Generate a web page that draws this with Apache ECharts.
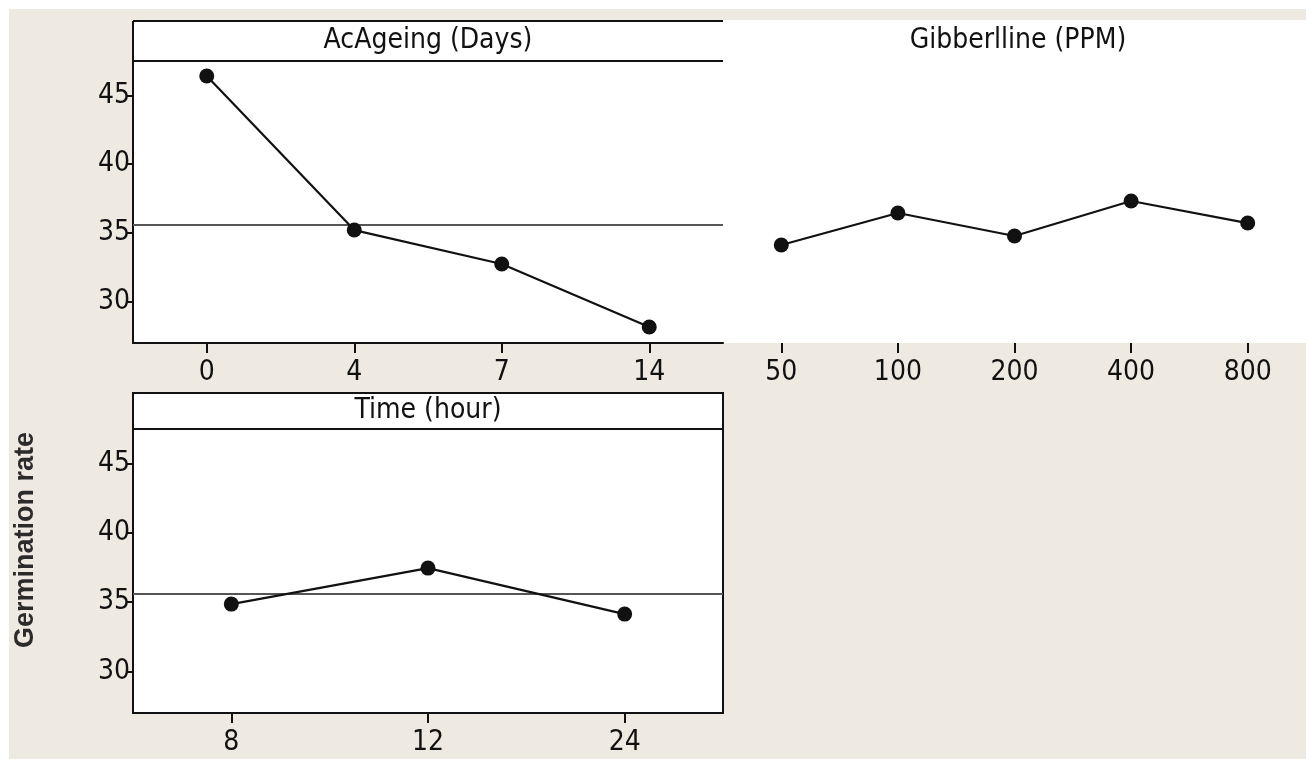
<!DOCTYPE html>
<html>
<head>
<meta charset="utf-8">
<script src="https://cdn.jsdelivr.net/npm/echarts@6/dist/echarts.min.js"></script>
<style>
  html, body { margin: 0; padding: 0; background: #fff; }
  #bg { position: absolute; left: 9px; top: 9px; width: 1297px; height: 750px; background: #eeeae1; }
  #main { position: absolute; left: 0; top: 0; width: 1306px; height: 759px; }
</style>
</head>
<body>
<div id="bg"></div>
<div id="main"></div>
<script>
// main effects for germination rate
const ageDays = ['0', '4', '7', '14']
const ageRate = [46.41, 35.21, 32.74, 28.16]
const gaPpm = ['50', '100', '200', '400', '800']
const gaRate = [34.12, 36.45, 34.78, 37.32, 35.72]
const timeHour = ['8', '12', '24']
const timeRate = [34.86, 37.46, 34.14]
const grandMean = 35.62
const yTicks = [30, 35, 40, 45]

const font = "'DejaVu Sans Condensed', 'DejaVu Sans', sans-serif"
const black = '#111'

const chart = echarts.init(document.getElementById('main'))

function xAxis(idx, data, showLine) {
  return {
    type: 'category',
    gridIndex: idx,
    data: data,
    boundaryGap: true,
    axisLine: { show: showLine, lineStyle: { color: black, width: 2 } },
    axisTick: { show: true, alignWithLabel: true, length: 10, lineStyle: { color: black, width: 2 } },
    axisLabel: { fontSize: 28, fontFamily: font, color: black, margin: 16 },
    splitLine: { show: false }
  }
}

function yAxis(idx, show) {
  return {
    type: 'value',
    gridIndex: idx,
    show: show,
    min: 27,
    max: 47.5,
    axisLine: { show: true, lineStyle: { color: black, width: 2 } },
    axisTick: { show: true, length: 6, customValues: yTicks, lineStyle: { color: black, width: 2 } },
    axisLabel: { fontSize: 28, fontFamily: font, color: black, margin: 3, customValues: yTicks },
    splitLine: { show: false }
  }
}

function lineSeries(idx, data, withMean) {
  const s = {
    type: 'line',
    xAxisIndex: idx,
    yAxisIndex: idx,
    data: data,
    symbol: 'circle',
    symbolSize: 15,
    lineStyle: { color: black, width: 2.2 },
    itemStyle: { color: black },
    z: 5
  }
  if (withMean) {
    s.markLine = {
      silent: true,
      symbol: 'none',
      label: { show: false },
      lineStyle: { color: '#555', type: 'solid', width: 2 },
      data: [{ yAxis: grandMean }]
    }
  }
  return s
}

function headText(text, x, y) {
  return {
    type: 'text',
    x: x,
    y: y,
    z: 10,
    style: { text: text, fontSize: 28, fontFamily: font, fill: black, align: 'center', verticalAlign: 'middle' }
  }
}

function hLine(x1, x2, y) {
  return { type: 'line', z: 10, shape: { x1: x1, y1: y, x2: x2, y2: y }, style: { stroke: black, lineWidth: 2 } }
}

const option = {
  animation: false,
  grid: [
    { left: 133, top: 61, width: 590, height: 282, show: true, backgroundColor: '#fff', borderWidth: 0 },
    { left: 723, top: 61, width: 590, height: 282, show: false },
    { left: 133, top: 429, width: 590, height: 284, show: true, backgroundColor: '#fff', borderColor: black, borderWidth: 2 }
  ],
  xAxis: [xAxis(0, ageDays, true), xAxis(1, gaPpm, false), xAxis(2, timeHour, true)],
  yAxis: [yAxis(0, true), yAxis(1, false), yAxis(2, true)],
  series: [lineSeries(0, ageRate, true), lineSeries(1, gaRate, false), lineSeries(2, timeRate, true)],
  graphic: [
    // panel 2 has a plain white field, no frame
    { type: 'rect', z: -1, shape: { x: 723, y: 20, width: 583, height: 323 }, style: { fill: '#fff' } },
    // header strips
    { type: 'rect', z: 9, shape: { x: 133, y: 21, width: 590, height: 40 }, style: { fill: '#fff' } },
    hLine(133, 723, 21),
    hLine(133, 723, 61),
    { type: 'line', z: 10, shape: { x1: 133, y1: 21, x2: 133, y2: 61 }, style: { stroke: black, lineWidth: 2 } },
    { type: 'rect', z: 9, shape: { x: 133, y: 393, width: 590, height: 36 }, style: { fill: '#fff', stroke: black, lineWidth: 2 } },
    headText('AcAgeing (Days)', 428, 41),
    headText('Gibberlline (PPM)', 1018, 41),
    headText('Time (hour)', 428, 411),
    {
      type: 'text',
      x: 26,
      y: 540,
      rotation: Math.PI / 2,
      z: 10,
      style: {
        text: 'Germination rate',
        fontSize: 27,
        fontWeight: 'bold',
        fontFamily: "'Liberation Sans', Arial, sans-serif",
        fill: '#2b2b2b',
        align: 'center',
        verticalAlign: 'middle'
      }
    }
  ]
}

chart.setOption(option)
</script>
</body>
</html>
